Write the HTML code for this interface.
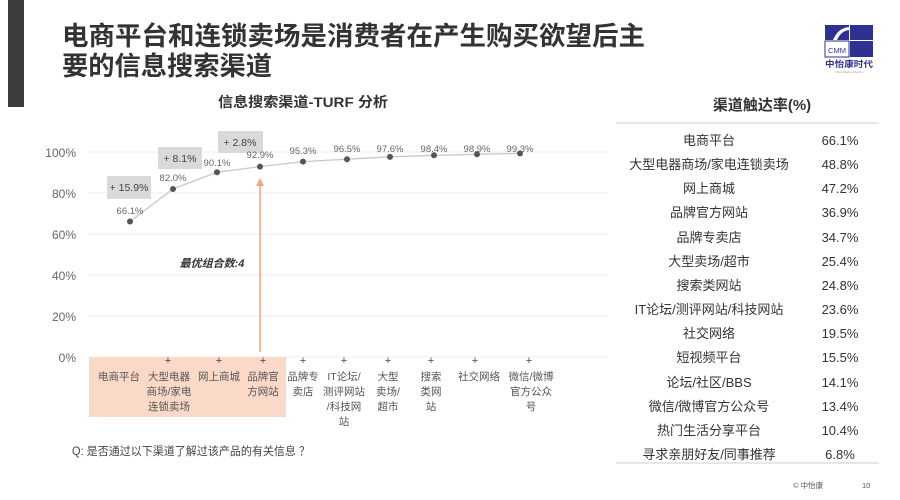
<!DOCTYPE html>
<html>
<head>
<meta charset="utf-8">
<style>
  html,body{margin:0;padding:0;background:#fff;}
  body{width:900px;height:500px;overflow:hidden;position:relative;}
  svg{position:absolute;left:0;top:0;}
  text{font-family:"Liberation Sans","Noto Sans CJK SC",sans-serif;}
</style>
</head>
<body>
<svg width="900" height="500" viewBox="0 0 900 500" xmlns="http://www.w3.org/2000/svg">
  <!-- left bar -->
  <rect x="8" y="0" width="16" height="107" fill="#3a3c40"/>

  <!-- title -->
  <text x="62" y="45" font-size="26" font-weight="bold" fill="#333" textLength="583" lengthAdjust="spacingAndGlyphs">电商平台和连锁卖场是消费者在产生购买欲望后主</text>
  <text x="62" y="75" font-size="26" font-weight="bold" fill="#333" textLength="210" lengthAdjust="spacingAndGlyphs">要的信息搜索渠道</text>

  <!-- logo -->
  <g>
    <rect x="825" y="25" width="24" height="15" fill="#2e3192"/>
    <path d="M833 40 Q838 28 849 27 L849 30 Q841 31 837 40 Z" fill="#fff"/>
    <rect x="850" y="25" width="23" height="15" fill="#2e3192"/>
    <rect x="825" y="41" width="24" height="16" fill="#fff" stroke="#2e3192" stroke-width="1"/>
    <text x="837" y="53" font-size="7.5" fill="#2e3192" text-anchor="middle">CMM</text>
    <rect x="850" y="41" width="23" height="16" fill="#2e3192"/>
    <text x="849" y="67" font-size="8.5" font-weight="bold" fill="#2e3192" text-anchor="middle" textLength="48" lengthAdjust="spacingAndGlyphs">中怡康时代</text>
    <text x="849" y="73" font-size="3" fill="#99a" text-anchor="middle">China Market Monitor</text>
  </g>

  <!-- chart subtitle -->
  <text x="303" y="107" font-size="14" font-weight="bold" fill="#333" text-anchor="middle" textLength="170" lengthAdjust="spacingAndGlyphs">信息搜索渠道-TURF 分析</text>

  <!-- grid -->
  <g stroke="#ececec" stroke-width="1">
    <line x1="88" y1="152" x2="608" y2="152"/>
    <line x1="88" y1="193" x2="608" y2="193"/>
    <line x1="88" y1="234" x2="608" y2="234"/>
    <line x1="88" y1="275" x2="608" y2="275"/>
    <line x1="88" y1="316" x2="608" y2="316"/>
    <line x1="88" y1="357" x2="608" y2="357"/>
  </g>
  <g font-size="12" fill="#666" text-anchor="end">
    <text x="76" y="157">100%</text>
    <text x="76" y="198">80%</text>
    <text x="76" y="239">60%</text>
    <text x="76" y="280">40%</text>
    <text x="76" y="321">20%</text>
    <text x="76" y="362">0%</text>
  </g>

  <!-- pink band -->
  <rect x="89" y="357" width="197" height="60" fill="#fbd9c9"/>

  <!-- increment boxes -->
  <rect x="107" y="176" width="44" height="23" fill="#d9d9d9"/>
  <text x="129" y="191" font-size="10.5" fill="#444" text-anchor="middle">+ 15.9%</text>
  <rect x="158" y="147" width="44" height="22" fill="#d9d9d9"/>
  <text x="180" y="162" font-size="10.5" fill="#444" text-anchor="middle">+ 8.1%</text>
  <rect x="218" y="131" width="45" height="22" fill="#d9d9d9"/>
  <text x="240" y="146" font-size="10.5" fill="#444" text-anchor="middle">+ 2.8%</text>

  <!-- line -->
  <polyline fill="none" stroke="#c8c8c8" stroke-width="1.3"
    points="130,221.5 173,189 217,172.3 260,166.6 303,161.6 347,159.2 390,156.9 434,155.3 477,154.3 520,153.4"/>
  <g fill="#555">
    <circle cx="130" cy="221.5" r="3"/>
    <circle cx="173" cy="189" r="3"/>
    <circle cx="217" cy="172.3" r="3"/>
    <circle cx="260" cy="166.6" r="3"/>
    <circle cx="303" cy="161.6" r="3"/>
    <circle cx="347" cy="159.2" r="3"/>
    <circle cx="390" cy="156.9" r="3"/>
    <circle cx="434" cy="155.3" r="3"/>
    <circle cx="477" cy="154.3" r="3"/>
    <circle cx="520" cy="153.4" r="3"/>
  </g>
  <g font-size="9.5" fill="#666" text-anchor="middle">
    <text x="130" y="214">66.1%</text>
    <text x="173" y="181">82.0%</text>
    <text x="217" y="166">90.1%</text>
    <text x="260" y="158">92.9%</text>
    <text x="303" y="154">95.3%</text>
    <text x="347" y="152">96.5%</text>
    <text x="390" y="152">97.6%</text>
    <text x="434" y="152">98.4%</text>
    <text x="477" y="152">98.9%</text>
    <text x="520" y="152">99.3%</text>
  </g>

  <!-- arrow -->
  <line x1="260" y1="352" x2="260" y2="184" stroke="#f4a582" stroke-width="1.6"/>
  <path d="M256 186 L260 178 L264 186 Z" fill="#f4a582"/>

  <text x="212" y="267" font-size="11" font-weight="bold" font-style="italic" fill="#333" text-anchor="middle">最优组合数:4</text>

  <!-- category labels -->
  <g font-size="11" fill="#444" text-anchor="middle">
    <text x="168" y="364">+</text>
    <text x="219" y="364">+</text>
    <text x="263" y="364">+</text>
    <text x="303" y="364">+</text>
    <text x="344" y="364">+</text>
    <text x="388" y="364">+</text>
    <text x="431" y="364">+</text>
    <text x="475" y="364">+</text>
    <text x="529" y="364">+</text>
  </g>
  <g font-size="10.5" fill="#555" text-anchor="middle">
    <text x="119" y="380">电商平台</text>
    <text x="169" y="380">大型电器</text>
    <text x="169" y="395">商场/家电</text>
    <text x="169" y="410">连锁卖场</text>
    <text x="219" y="380">网上商城</text>
    <text x="263" y="380">品牌官</text>
    <text x="263" y="395">方网站</text>
    <text x="303" y="380">品牌专</text>
    <text x="303" y="395">卖店</text>
    <text x="344" y="380">IT论坛/</text>
    <text x="344" y="395">测评网站</text>
    <text x="344" y="410">/科技网</text>
    <text x="344" y="425">站</text>
    <text x="388" y="380">大型</text>
    <text x="388" y="395">卖场/</text>
    <text x="388" y="410">超市</text>
    <text x="431" y="380">搜索</text>
    <text x="431" y="395">类网</text>
    <text x="431" y="410">站</text>
    <text x="479" y="380">社交网络</text>
    <text x="531" y="380">微信/微博</text>
    <text x="531" y="395">官方公众</text>
    <text x="531" y="410">号</text>
  </g>

  <!-- question -->
  <text x="72" y="455" font-size="11.5" fill="#444" textLength="238" lengthAdjust="spacingAndGlyphs">Q: 是否通过以下渠道了解过该产品的有关信息 ？</text>

  <!-- table -->
  <text x="762" y="110" font-size="15" font-weight="bold" fill="#333" text-anchor="middle">渠道触达率(%)</text>
  <line x1="616" y1="123" x2="879" y2="123" stroke="#cfcfcf" stroke-width="1"/>
  <line x1="616" y1="463" x2="879" y2="463" stroke="#cfcfcf" stroke-width="1"/>
  <g font-size="13" fill="#333" text-anchor="middle">
    <text x="709" y="145">电商平台</text>
    <text x="709" y="169">大型电器商场/家电连锁卖场</text>
    <text x="709" y="193">网上商城</text>
    <text x="709" y="217">品牌官方网站</text>
    <text x="709" y="242">品牌专卖店</text>
    <text x="709" y="266">大型卖场/超市</text>
    <text x="709" y="290">搜索类网站</text>
    <text x="709" y="314">IT论坛/测评网站/科技网站</text>
    <text x="709" y="338">社交网络</text>
    <text x="709" y="362">短视频平台</text>
    <text x="709" y="387">论坛/社区/BBS</text>
    <text x="709" y="411">微信/微博官方公众号</text>
    <text x="709" y="435">热门生活分享平台</text>
    <text x="709" y="459">寻求亲朋好友/同事推荐</text>
  </g>
  <g font-size="13" fill="#333" text-anchor="middle">
    <text x="840" y="145">66.1%</text>
    <text x="840" y="169">48.8%</text>
    <text x="840" y="193">47.2%</text>
    <text x="840" y="217">36.9%</text>
    <text x="840" y="242">34.7%</text>
    <text x="840" y="266">25.4%</text>
    <text x="840" y="290">24.8%</text>
    <text x="840" y="314">23.6%</text>
    <text x="840" y="338">19.5%</text>
    <text x="840" y="362">15.5%</text>
    <text x="840" y="387">14.1%</text>
    <text x="840" y="411">13.4%</text>
    <text x="840" y="435">10.4%</text>
    <text x="840" y="459">6.8%</text>
  </g>

  <!-- footer -->
  <text x="793" y="488" font-size="7.5" fill="#555">© 中怡康</text>
  <text x="862" y="488" font-size="7.5" fill="#555">10</text>
</svg>
</body>
</html>
